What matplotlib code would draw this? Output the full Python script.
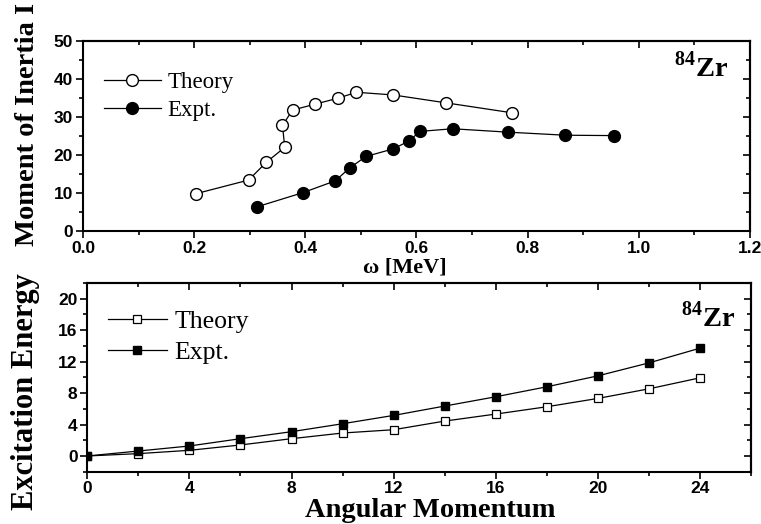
import numpy as np
import matplotlib
matplotlib.use("Agg")
import matplotlib.pyplot as plt
from matplotlib.ticker import MultipleLocator
from matplotlib.font_manager import FontProperties

plt.rcParams['mathtext.fontset'] = 'custom'
plt.rcParams['mathtext.rm'] = 'Liberation Serif:bold'
plt.rcParams['mathtext.bf'] = 'Liberation Serif:bold'

## data: moment of inertia vs rotational frequency
w_theory = [0.203, 0.298, 0.330, 0.363, 0.359, 0.377, 0.418, 0.458, 0.492, 0.558, 0.654, 0.772]
I_theory = [9.8, 13.4, 18.1, 22.0, 27.8, 31.8, 33.4, 34.9, 36.5, 35.8, 33.7, 31.1]
w_expt = [0.314, 0.396, 0.454, 0.480, 0.509, 0.558, 0.587, 0.606, 0.665, 0.765, 0.868, 0.955]
I_expt = [6.4, 10.1, 13.2, 16.6, 19.6, 21.6, 23.7, 26.2, 26.9, 26.0, 25.2, 25.1]

## data: excitation energy vs angular momentum
J = [0, 2, 4, 6, 8, 10, 12, 14, 16, 18, 20, 22, 24]
E_theory = [0.0, 0.30, 0.72, 1.40, 2.20, 2.92, 3.34, 4.44, 5.33, 6.26, 7.32, 8.54, 9.94]
E_expt = [0.0, 0.63, 1.27, 2.20, 3.09, 4.10, 5.16, 6.35, 7.53, 8.80, 10.19, 11.84, 13.71]

tickfont = FontProperties(family=['Liberation Sans Narrow', 'Liberation Sans'], weight='bold', size=12.5)
serif_bold = dict(family='Liberation Serif', weight='bold')


def style_axes(ax, xmaj, xmin, ymaj, ymin):
    for s in ax.spines.values():
        s.set_linewidth(1.5)
    ax.xaxis.set_major_locator(MultipleLocator(xmaj))
    ax.xaxis.set_minor_locator(MultipleLocator(xmin))
    ax.yaxis.set_major_locator(MultipleLocator(ymaj))
    ax.yaxis.set_minor_locator(MultipleLocator(ymin))
    ax.tick_params(which='both', direction='out', top=False, right=False, width=1.2, pad=2)
    ax.tick_params(which='major', length=5)
    ax.tick_params(which='minor', length=3)
    for lab in ax.get_xticklabels() + ax.get_yticklabels():
        lab.set_fontproperties(tickfont)
    # inward ticks on the top and right edges
    top = ax.secondary_xaxis('top')
    top.xaxis.set_major_locator(MultipleLocator(xmaj))
    top.xaxis.set_minor_locator(MultipleLocator(xmin))
    top.tick_params(which='both', direction='in', labeltop=False, width=1.2)
    top.tick_params(which='major', length=5)
    top.tick_params(which='minor', length=3)
    top.spines['top'].set_linewidth(1.5)
    right = ax.secondary_yaxis('right')
    right.yaxis.set_major_locator(MultipleLocator(ymaj))
    right.yaxis.set_minor_locator(MultipleLocator(ymin))
    right.tick_params(which='both', direction='in', labelright=False, width=1.2)
    right.tick_params(which='major', length=5)
    right.tick_params(which='minor', length=3)
    right.spines['right'].set_linewidth(1.5)


fig = plt.figure(figsize=(7.61, 5.24), dpi=100)

## top panel
ax1 = fig.add_axes([0.109, 0.5592, 0.8765, 0.3626])
ax1.plot(w_theory, I_theory, '-o', color='black', mfc='white', mec='black',
         ms=8.5, lw=0.9, mew=1.0, label='Theory')
ax1.plot(w_expt, I_expt, '-o', color='black', mfc='black', mec='black',
         ms=8.5, lw=0.9, label='Expt.')
ax1.set_xlim(0, 1.2)
ax1.set_ylim(0, 50)
style_axes(ax1, 0.2, 0.1, 10, 5)
ax1.set_xticks(np.arange(0, 1.21, 0.2))
ax1.set_xticklabels(['0.0', '0.2', '0.4', '0.6', '0.8', '1.0', '1.2'], fontproperties=tickfont)
ax1.legend(loc='upper left', bbox_to_anchor=(0.031, 0.838), frameon=False,
           prop=dict(family='Liberation Serif', size=16.5), handlelength=2.5,
           handletextpad=0.3, labelspacing=0.3, borderpad=0, borderaxespad=0)
ax1.text(0.967, 0.81, r'$^{84}$Zr', transform=ax1.transAxes, ha='right',
         va='baseline', fontsize=20.5, **serif_bold)

## bottom panel
ax2 = fig.add_axes([0.1147, 0.0998, 0.8722, 0.3601])
ax2.plot(J, E_theory, '-s', color='black', mfc='white', mec='black',
         ms=5.5, lw=0.9, mew=0.9, label='Theory')
ax2.plot(J, E_expt, '-s', color='black', mfc='black', mec='black',
         ms=5.5, lw=0.9, label='Expt.')
ax2.set_xlim(0, 26)
ax2.set_ylim(-2, 22)
style_axes(ax2, 4, 2, 4, 2)
ax2.set_xticks([0, 4, 8, 12, 16, 20, 24])
ax2.set_yticks([0, 4, 8, 12, 16, 20])
for lab in ax2.get_xticklabels() + ax2.get_yticklabels():
    lab.set_fontproperties(tickfont)
ax2.legend(loc='upper left', bbox_to_anchor=(0.031, 0.855), frameon=False,
           prop=dict(family='Liberation Serif', size=18.5), handlelength=2.3,
           handletextpad=0.3, labelspacing=0.3, borderpad=0, borderaxespad=0)
ax2.text(0.976, 0.77, r'$^{84}$Zr', transform=ax2.transAxes, ha='right',
         va='baseline', fontsize=20.5, **serif_bold)

## axis labels
fig.text(0.532, 0.489, 'ω [MeV]', ha='center', va='center', fontsize=16, **serif_bold)
fig.text(0.036, 0.762, 'Moment of Inertia I', rotation=90, ha='center', va='center',
         fontsize=20.5, **serif_bold)
fig.text(0.034, 0.252, 'Excitation Energy', rotation=90, ha='center', va='center',
         fontsize=22, **serif_bold)
fig.text(0.565, 0.014, 'Angular Momentum', ha='center', va='baseline', fontsize=20.5, **serif_bold)

fig.savefig('out.png', dpi=100)
